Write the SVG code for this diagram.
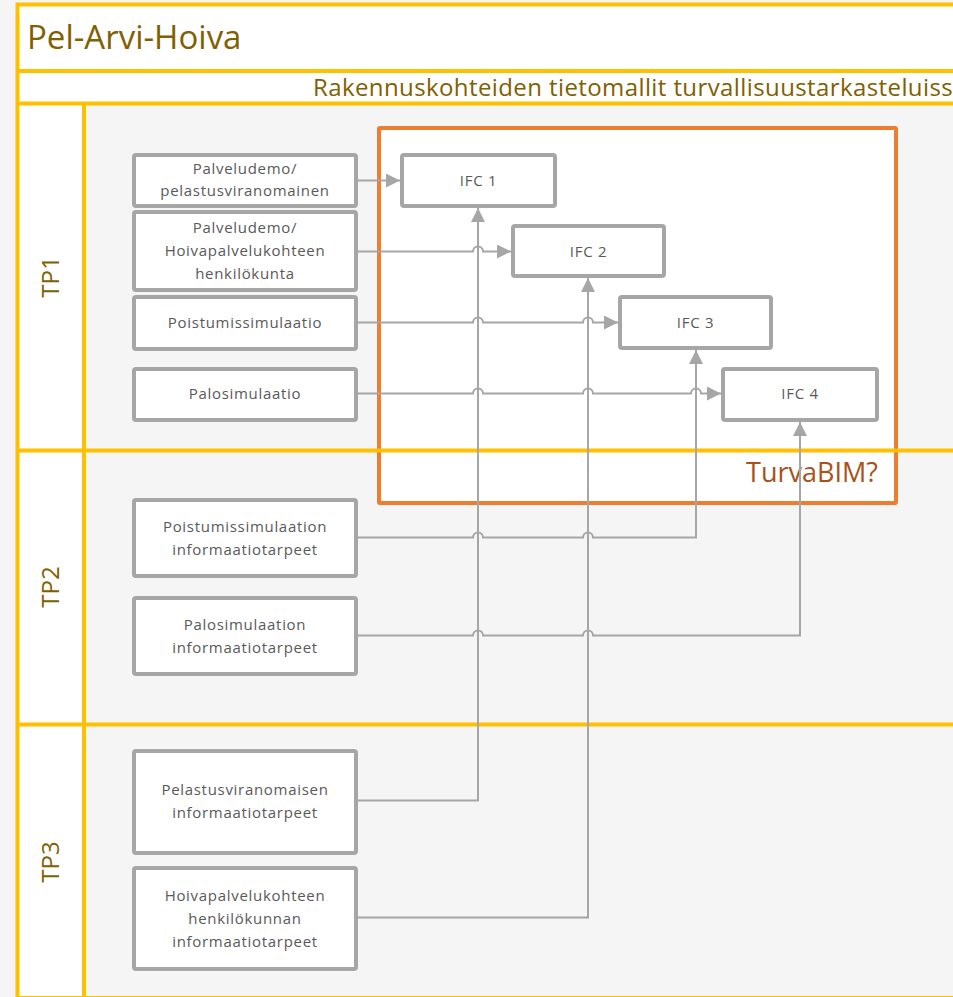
<svg xmlns="http://www.w3.org/2000/svg" width="953" height="997" viewBox="0 0 953 997">
<style>
.bg{fill:#f5f5f5}
.wh{fill:#ffffff}
.yl{stroke:#ffc000;stroke-width:4;fill:none}
.hdr{font-family:"Open Sans","Noto Sans",sans-serif;fill:#806000}
.box rect{fill:#ffffff;stroke:#a6a6a6;stroke-width:4}
.box text{font-family:"Open Sans","Noto Sans",sans-serif;font-size:15px;fill:#595959;text-anchor:middle;letter-spacing:0.7px}
.conn path{fill:none;stroke:#a6a6a6;stroke-width:2}
</style>
<defs>
<marker id="arr" markerUnits="userSpaceOnUse" markerWidth="15" markerHeight="15" refX="14" refY="7" orient="auto">
<path d="M0,0 L14,7 L0,14 Z" fill="#a6a6a6"/>
</marker>
</defs>
<rect class="bg" x="0" y="0" width="953" height="997"/>
<rect class="wh" x="17" y="4" width="936" height="100"/>
<rect class="wh" x="17" y="104" width="67" height="893"/>
<g id="turvabim">
<rect x="379" y="128" width="517" height="375" fill="#ffffff" stroke="#ed7d31" stroke-width="4" rx="1"/>
</g>
<g id="frame">
<path class="yl" d="M953,4.5 H17.5 V997 M17.5,71 H953 M17.5,103.5 H953 M84,103.5 V997 M17.5,450.5 H953 M17.5,724.5 H953 M17.5,998 H953"/>
<text class="hdr" x="27" y="49" font-size="33">Pel-Arvi-Hoiva</text>
<text class="hdr" x="313" y="96" font-size="24" letter-spacing="0.4">Rakennuskohteiden tietomallit turvallisuustarkasteluiss</text>
<text class="hdr" font-size="24" text-anchor="middle" transform="translate(59,277) rotate(-90)">TP1</text>
<text class="hdr" font-size="24" text-anchor="middle" transform="translate(59,587) rotate(-90)">TP2</text>
<text class="hdr" font-size="24" text-anchor="middle" transform="translate(59,862) rotate(-90)">TP3</text>
</g>
<text x="878" y="482" font-family="Open Sans, Noto Sans, sans-serif" font-size="27" fill="#a8521a" text-anchor="end">TurvaBIM?</text>
<g class="conn" id="connectors">
<path d="M358,180.5 H400" marker-end="url(#arr)"/>
<path d="M358,251.5 H473 a5,5 0 0 1 10,0 H511" marker-end="url(#arr)"/>
<path d="M358,322.5 H473 a5,5 0 0 1 10,0 H583 a5,5 0 0 1 10,0 H618" marker-end="url(#arr)"/>
<path d="M358,393.5 H473 a5,5 0 0 1 10,0 H583 a5,5 0 0 1 10,0 H691 a5,5 0 0 1 10,0 H721" marker-end="url(#arr)"/>
<path d="M358,537.5 H473 a5,5 0 0 1 10,0 H583 a5,5 0 0 1 10,0 H696 V350" marker-end="url(#arr)"/>
<path d="M358,635.5 H473 a5,5 0 0 1 10,0 H583 a5,5 0 0 1 10,0 H800 V422" marker-end="url(#arr)"/>
<path d="M358,800.5 H478 V208" marker-end="url(#arr)"/>
<path d="M358,917.5 H588 V278" marker-end="url(#arr)"/>
</g>
<g class="box" id="n-palveludemo-pel"><rect x="134" y="155" width="222" height="51" rx="2"/><text x="245" y="174">Palveludemo/</text><text x="245" y="196">pelastusviranomainen</text></g>
<g class="box" id="n-palveludemo-hoiva"><rect x="134" y="212" width="222" height="78" rx="2"/><text x="245" y="233">Palveludemo/</text><text x="245" y="256">Hoivapalvelukohteen</text><text x="245" y="279">henkilökunta</text></g>
<g class="box" id="n-poistumissim"><rect x="134" y="297" width="222" height="52" rx="2"/><text x="245" y="328">Poistumissimulaatio</text></g>
<g class="box" id="n-palosim"><rect x="134" y="369" width="222" height="51" rx="2"/><text x="245" y="399">Palosimulaatio</text></g>
<g class="box" id="n-poist-info"><rect x="134" y="500" width="222" height="76" rx="2"/><text x="245" y="532">Poistumissimulaation</text><text x="245" y="555">informaatiotarpeet</text></g>
<g class="box" id="n-palo-info"><rect x="134" y="598" width="222" height="76" rx="2"/><text x="245" y="630">Palosimulaation</text><text x="245" y="653">informaatiotarpeet</text></g>
<g class="box" id="n-pel-info"><rect x="134" y="751" width="222" height="102" rx="2"/><text x="245" y="795">Pelastusviranomaisen</text><text x="245" y="818">informaatiotarpeet</text></g>
<g class="box" id="n-hoiva-info"><rect x="134" y="868" width="222" height="101" rx="2"/><text x="245" y="901">Hoivapalvelukohteen</text><text x="245" y="924">henkilökunnan</text><text x="245" y="947">informaatiotarpeet</text></g>
<g class="box" id="n-ifc1"><rect x="402" y="155" width="153" height="51" rx="2"/><text x="478.5" y="186">IFC 1</text></g>
<g class="box" id="n-ifc2"><rect x="513" y="226" width="151" height="50" rx="2"/><text x="588.5" y="257">IFC 2</text></g>
<g class="box" id="n-ifc3"><rect x="620" y="297" width="151" height="51" rx="2"/><text x="695.5" y="328">IFC 3</text></g>
<g class="box" id="n-ifc4"><rect x="723" y="369" width="154" height="51" rx="2"/><text x="800" y="399">IFC 4</text></g>
</svg>
